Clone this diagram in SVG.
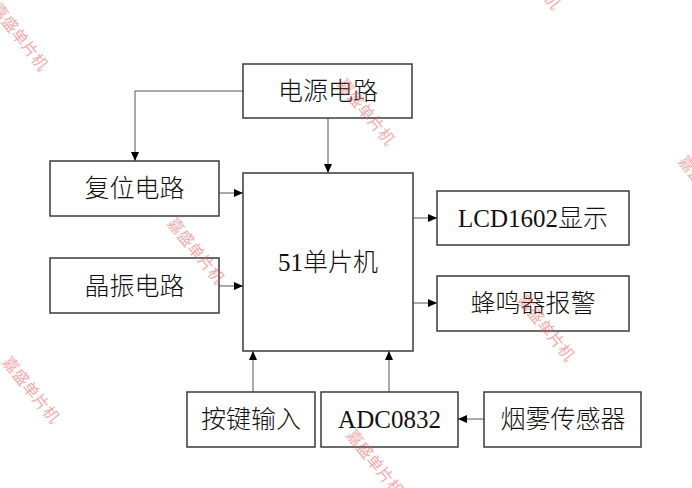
<svg xmlns="http://www.w3.org/2000/svg" width="692" height="488" viewBox="0 0 692 488">
<defs>
<marker id="arr" markerUnits="userSpaceOnUse" markerWidth="10" markerHeight="8" refX="9" refY="4" orient="auto">
<path d="M0,0 L9,4 L0,8 Z" fill="#000"/>
</marker>
<style>
.box{fill:#fff;stroke:#3a3a3a;stroke-width:1.5}
.lbl{font-family:"Liberation Serif","Noto Sans CJK SC",serif;font-size:25px;font-weight:300;fill:#111;text-anchor:middle}
.con{fill:none;stroke:#555;stroke-width:1;marker-end:url(#arr)}
.wm{font-family:"Noto Sans CJK SC",sans-serif;font-size:16px;fill:#e85a5a;opacity:0.5;text-anchor:middle;dominant-baseline:central}
</style>
</defs>
<rect width="692" height="488" fill="#fff"/>
<g id="connectors">
<path class="con" d="M243,91 H135 V161"/>
<path class="con" d="M328,118 V173"/>
<path class="con" d="M219,193 H243"/>
<path class="con" d="M219,286 H243"/>
<path class="con" d="M413,218 H437"/>
<path class="con" d="M413,303 H437"/>
<path class="con" d="M253,392 V351"/>
<path class="con" d="M389,392 V351"/>
<path class="con" d="M484,419 H458"/>
</g>
<g id="power"><rect class="box" x="243" y="64" width="169" height="54"/><text class="lbl" x="328" y="100">电源电路</text></g>
<g id="reset"><rect class="box" x="50" y="161" width="169" height="55"/><text class="lbl" x="134.5" y="197">复位电路</text></g>
<g id="crystal"><rect class="box" x="50" y="258" width="169" height="55"/><text class="lbl" x="134.5" y="295">晶振电路</text></g>
<g id="mcu"><rect class="box" x="243" y="173" width="170" height="178"/><text class="lbl" x="328" y="271">51单片机</text></g>
<g id="lcd"><rect class="box" x="437" y="191" width="192" height="54"/><text class="lbl" x="533" y="227">LCD1602显示</text></g>
<g id="buzzer"><rect class="box" x="437" y="276" width="192" height="55"/><text class="lbl" x="533" y="312">蜂鸣器报警</text></g>
<g id="keys"><rect class="box" x="187" y="392" width="128" height="55"/><text class="lbl" x="251" y="428">按键输入</text></g>
<g id="adc"><rect class="box" x="321" y="392" width="137" height="55"/><text class="lbl" x="389.5" y="428">ADC0832</text></g>
<g id="smoke"><rect class="box" x="484" y="392" width="157" height="55"/><text class="lbl" x="563" y="428">烟雾传感器</text></g>
<g id="watermarks">
<text class="wm" transform="translate(21,36) rotate(52)">嘉盛单片机</text>
<text class="wm" transform="translate(197,250) rotate(51)">嘉盛单片机</text>
<text class="wm" transform="translate(367,111) rotate(51)">嘉盛单片机</text>
<text class="wm" transform="translate(547,327) rotate(51)">嘉盛单片机</text>
<text class="wm" transform="translate(32,389) rotate(51)">嘉盛单片机</text>
<text class="wm" transform="translate(376,462) rotate(51)">嘉盛单片机</text>
<text class="wm" transform="translate(533,-25) rotate(51)">嘉盛单片机</text>
<text class="wm" transform="translate(708,188) rotate(51)">嘉盛单片机</text>
</g>
</svg>
